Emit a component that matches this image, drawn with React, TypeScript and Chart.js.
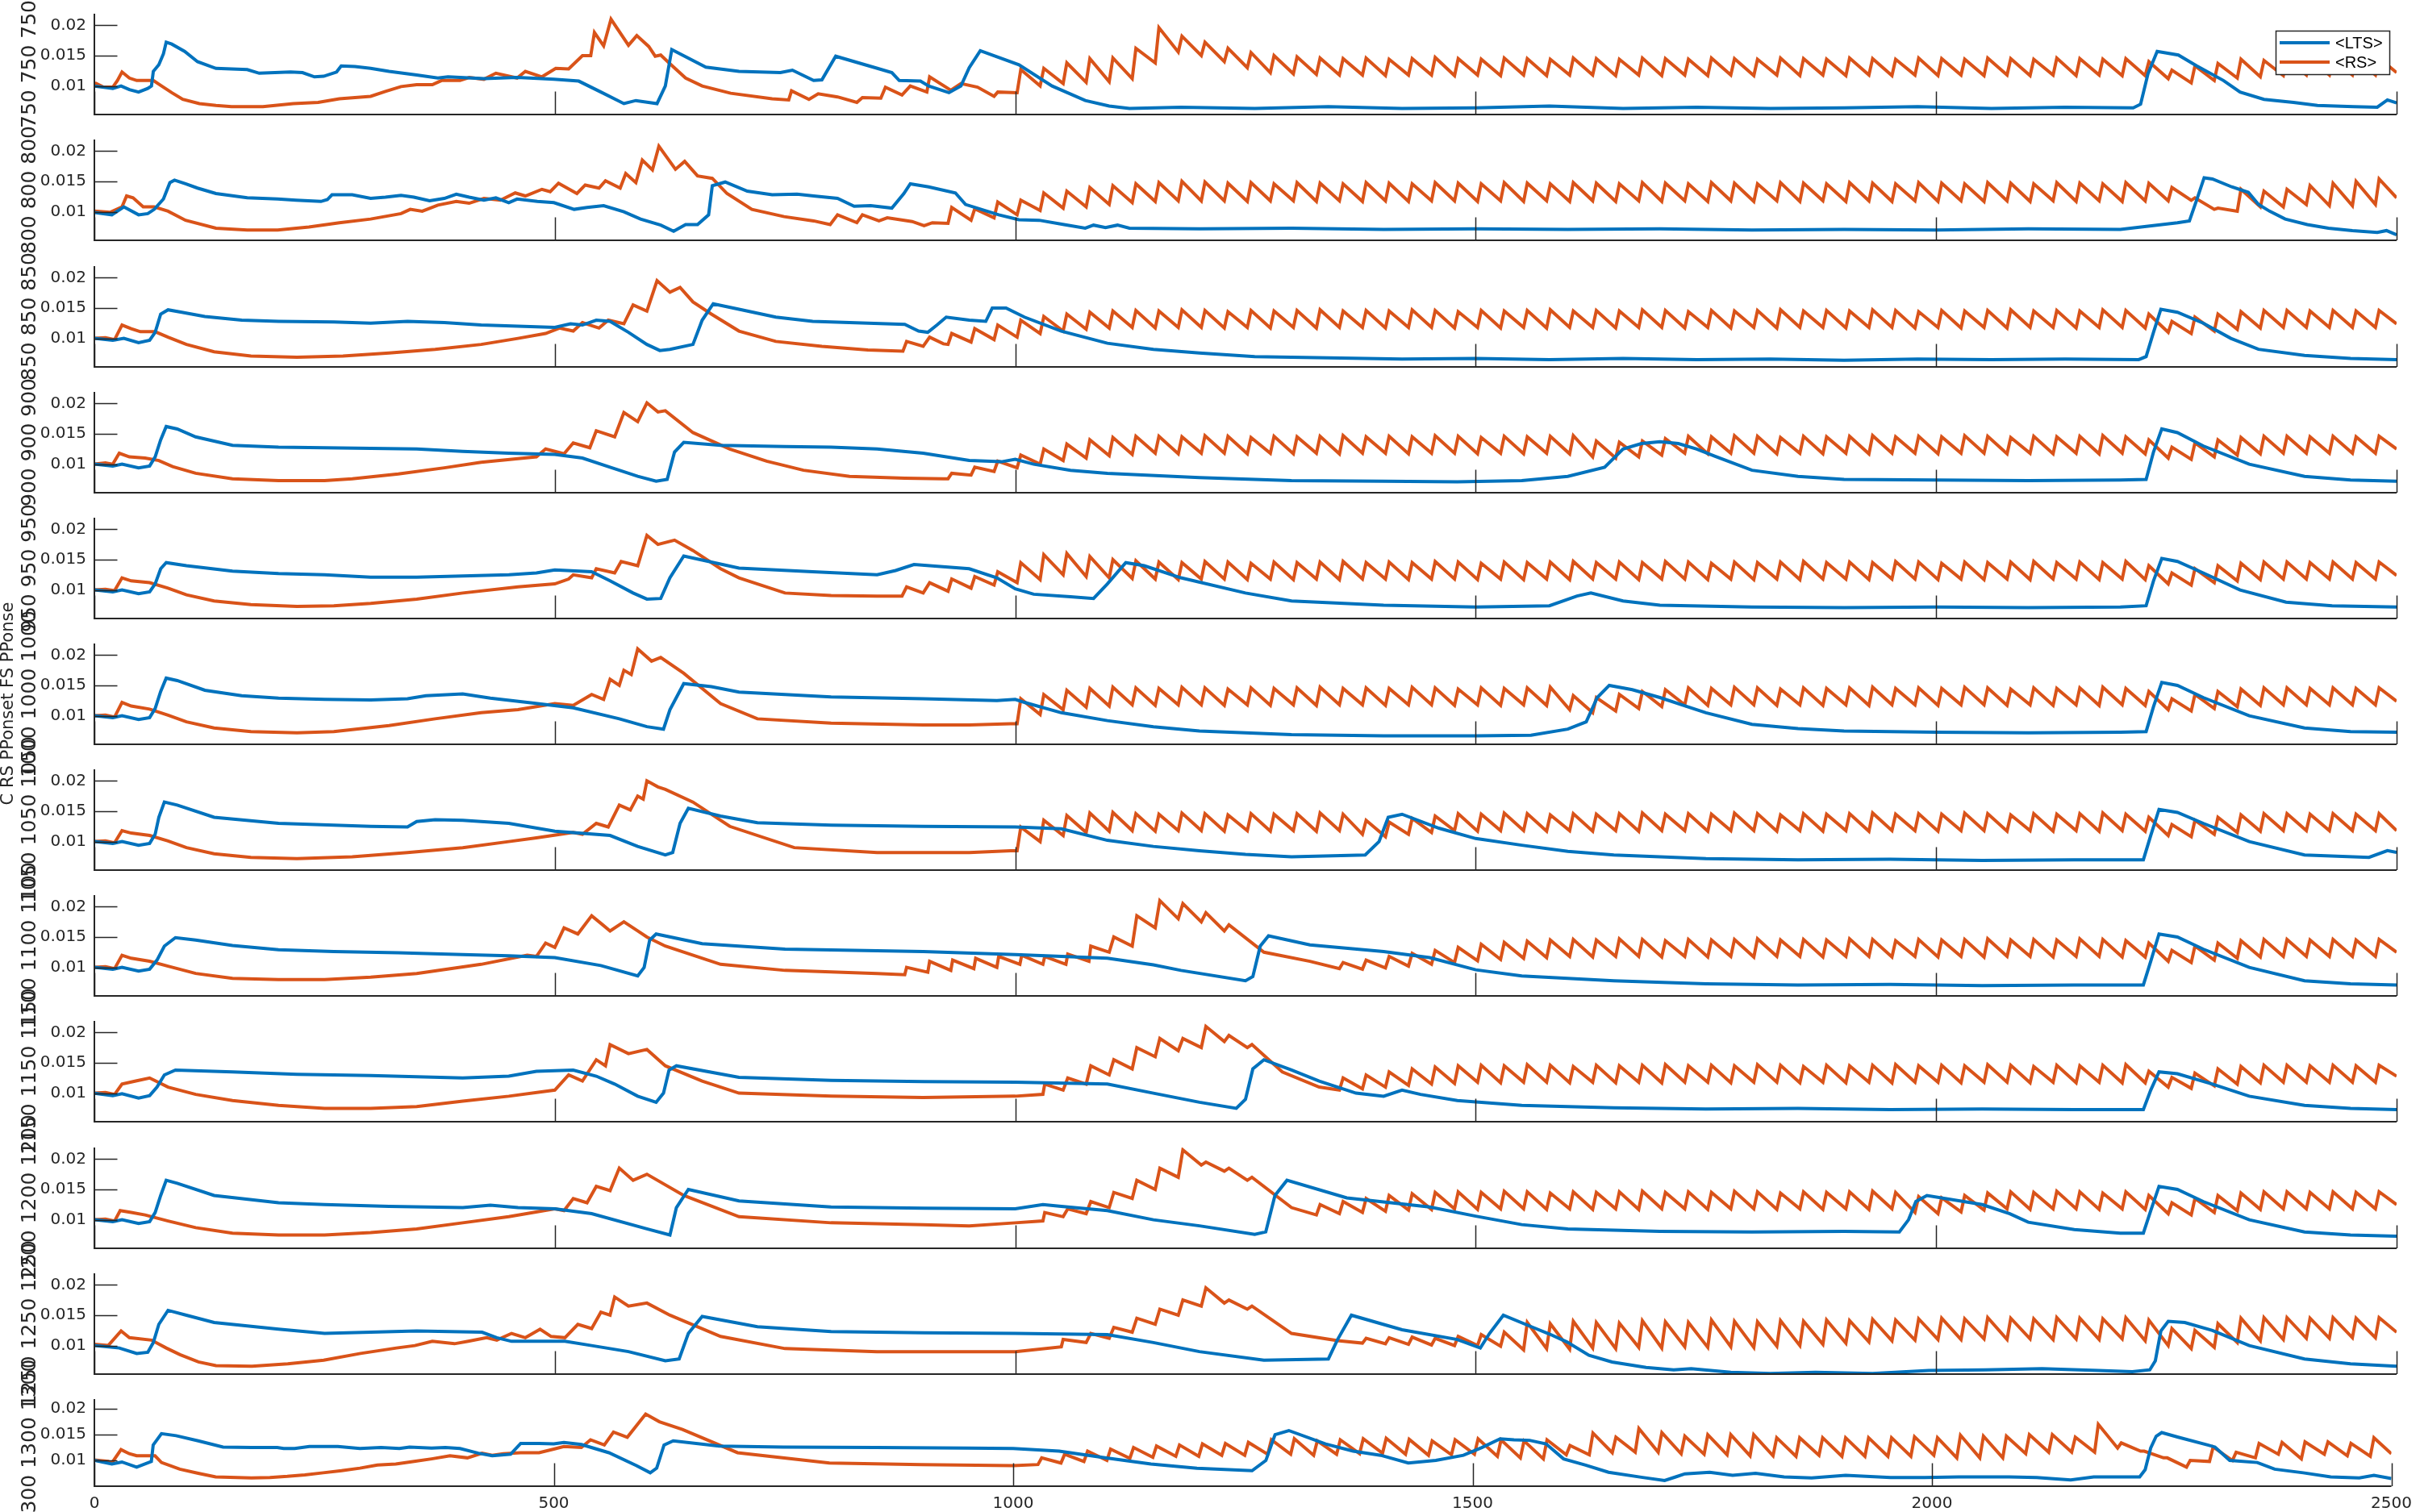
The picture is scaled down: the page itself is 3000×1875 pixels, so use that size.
import React, { useEffect, useRef } from 'react';
import { Chart, registerables } from 'chart.js';

Chart.register(...registerables);

// ---------- layout / style constants ----------
const PAGE_W = 3000;
const PAGE_H = 1875;
const PAD = 160;
const PANEL_TOP = [17, 173, 330, 486, 642, 798, 954, 1110, 1266, 1423, 1579, 1735];
const PANEL_H = [125, 125, 125, 125, 125, 125, 125, 125, 125, 125, 125, 108];
const Y_MIN = [0.0053, 0.0053, 0.0053, 0.0053, 0.0053, 0.0053, 0.0053, 0.0053, 0.0053, 0.0053, 0.0053, 0.005];
const Y_MAX = 0.0219;
const X_MIN = 0;
const X_MAX = 2500;
const X_TICKS = [0, 500, 1000, 1500, 2000, 2500];
const Y_TICKS = [0.01, 0.015, 0.02];
const Y_TICK_LABELS = ['0.01', '0.015', '0.02'];
const PANEL_VALUES = [750, 800, 850, 900, 950, 1000, 1050, 1100, 1150, 1200, 1250, 1300];
const GROUP_LABEL = 'C RS PPonset FS PPonse';
const GROUP_LABEL_PANEL = 5;
const SERIES_NAMES = ['<LTS>', '<RS>'];
const COLORS = ['#0072BD', '#D95319'];
const AXIS_COLOR = '#262626';
const TICK_LEN = 28.5;
const TOOTH_PERIOD = 25;

// ---------- data: <LTS> (x, y pairs) ----------
const LTS: number[][] = [
  [0,.0100,14,.0097,20,.0096,29,.0100,38,.0094,48,.0090,58,.0096,62,.0100,64,.0124,70,.0135,75,.0153,78,.0172,84,.0169,98,.0157,112,.0140,132,.0129,166,.0127,179,.0121,213,.0123,226,.0122,239,.0115,249,.0116,263,.0123,268,.0133,283,.0132,300,.0129,320,.0124,350,.0118,373,.0113,384,.0115,423,.0112,459,.0114,499,.0111,526,.0108,550,.0090,575,.0071,588,.0076,611,.0071,620,.0100,627,.0160,664,.0131,700,.0124,745,.0122,758,.0126,781,.0109,790,.0110,805,.0149,848,.0130,866,.0122,874,.0109,897,.0108,906,.0100,928,.0089,941,.0100,950,.0130,962,.0158,1004,.0135,1040,.0100,1076,.0076,1102,.0067,1124,.0063,1180,.0065,1260,.0063,1340,.0066,1420,.0063,1500,.0064,1580,.0067,1660,.0063,1740,.0065,1820,.0063,1900,.0064,1980,.0066,2060,.0063,2140,.0065,2214,.0064,2222,.0070,2230,.0120,2240,.0157,2263,.0151,2283,.0133,2312,.0109,2330,.0090,2356,.0078,2388,.0073,2414,.0068,2453,.0066,2479,.0065,2490,.0077,2500,.0072],
  [0,.0099,19,.0095,32,.0108,48,.0095,58,.0097,65,.0104,75,.0121,82,.0148,87,.0152,99,.0146,112,.0139,132,.0130,166,.0123,199,.0121,219,.0119,246,.0117,253,.0120,258,.0128,280,.0128,300,.0122,316,.0124,333,.0127,347,.0124,364,.0118,380,.0122,393,.0129,407,.0124,423,.0119,436,.0123,450,.0115,459,.0121,481,.0117,499,.0115,521,.0104,535,.0107,553,.0110,575,.0100,593,.0088,615,.0078,629,.0068,642,.0079,655,.0079,667,.0095,671,.0143,685,.0149,709,.0134,736,.0128,763,.0129,781,.0126,807,.0122,825,.0109,843,.0110,866,.0106,879,.0130,886,.0146,906,.0141,935,.0131,946,.0112,982,.0095,1004,.0087,1026,.0086,1053,.0079,1076,.0073,1085,.0078,1098,.0074,1111,.0078,1124,.0073,1200,.0072,1300,.0073,1400,.0071,1500,.0072,1600,.0071,1700,.0072,1800,.0070,1900,.0071,2000,.0070,2100,.0072,2200,.0071,2262,.0082,2275,.0085,2283,.0120,2291,.0156,2300,.0154,2321,.0141,2339,.0132,2350,.0112,2362,.0101,2379,.0088,2403,.0079,2426,.0073,2452,.0069,2479,.0066,2489,.0069,2500,.0062],
  [0,.0100,20,.0097,32,.0100,48,.0093,60,.0097,66,.0110,72,.0140,80,.0147,95,.0143,120,.0136,160,.0130,200,.0128,260,.0127,300,.0125,340,.0128,380,.0126,420,.0122,460,.0120,500,.0118,517,.0124,530,.0122,545,.0130,560,.0128,580,.0110,600,.0090,614,.0080,625,.0082,650,.0090,660,.0130,672,.0157,700,.0148,740,.0135,780,.0128,840,.0125,880,.0123,895,.0112,905,.0110,915,.0122,925,.0135,950,.0130,968,.0128,975,.0150,990,.0150,1010,.0135,1050,.0112,1100,.0092,1150,.0082,1200,.0076,1260,.0070,1340,.0068,1420,.0066,1500,.0067,1580,.0065,1660,.0067,1740,.0065,1820,.0066,1900,.0064,1980,.0066,2060,.0065,2140,.0066,2220,.0065,2228,.0070,2236,.0110,2244,.0148,2262,.0143,2290,.0125,2320,.0100,2350,.0082,2400,.0072,2450,.0067,2500,.0065],
  [0,.0100,20,.0097,30,.0100,48,.0094,60,.0097,66,.0112,72,.0140,78,.0162,90,.0158,110,.0145,150,.0131,200,.0128,250,.0127,300,.0126,350,.0125,400,.0121,450,.0118,500,.0116,530,.0110,560,.0095,590,.0080,610,.0072,622,.0075,630,.0120,640,.0136,680,.0131,750,.0129,800,.0128,850,.0125,900,.0118,950,.0106,985,.0104,1000,.0108,1020,.0100,1060,.0090,1100,.0085,1200,.0078,1300,.0073,1400,.0072,1480,.0071,1550,.0073,1600,.0080,1640,.0095,1660,.0125,1680,.0134,1700,.0137,1720,.0134,1740,.0125,1760,.0113,1800,.0090,1850,.0080,1900,.0075,2000,.0074,2100,.0073,2200,.0074,2228,.0075,2236,.0120,2245,.0158,2262,.0152,2290,.0130,2340,.0100,2400,.0080,2450,.0074,2500,.0072],
  [0,.0100,20,.0097,30,.0100,48,.0094,60,.0097,66,.0110,72,.0135,78,.0145,100,.0140,150,.0131,200,.0127,250,.0125,300,.0121,350,.0121,400,.0123,450,.0125,480,.0128,500,.0133,540,.0130,560,.0115,585,.0095,600,.0085,615,.0086,625,.0120,640,.0156,700,.0136,780,.0130,850,.0125,870,.0132,890,.0142,950,.0135,980,.0120,1000,.0102,1020,.0093,1060,.0089,1085,.0086,1100,.0110,1120,.0145,1140,.0140,1180,.0120,1250,.0095,1300,.0082,1400,.0075,1500,.0072,1580,.0074,1610,.0090,1625,.0095,1660,.0082,1700,.0075,1800,.0072,1900,.0071,2000,.0072,2100,.0071,2200,.0072,2228,.0074,2236,.0115,2245,.0152,2262,.0147,2290,.0128,2330,.0100,2380,.0080,2430,.0074,2500,.0072],
  [0,.0100,20,.0097,30,.0100,48,.0094,60,.0097,66,.0112,72,.0140,78,.0162,90,.0158,120,.0142,160,.0133,200,.0129,250,.0127,300,.0126,340,.0128,360,.0133,400,.0136,430,.0129,470,.0122,520,.0113,570,.0095,600,.0082,618,.0078,625,.0110,640,.0153,670,.0148,700,.0139,800,.0131,900,.0128,980,.0125,1000,.0127,1010,.0122,1050,.0105,1100,.0092,1150,.0082,1200,.0075,1300,.0069,1400,.0067,1500,.0067,1560,.0068,1600,.0078,1620,.0090,1632,.0130,1645,.0150,1670,.0143,1700,.0130,1730,.0115,1750,.0105,1800,.0086,1850,.0079,1900,.0075,2000,.0073,2100,.0072,2200,.0073,2228,.0074,2236,.0115,2245,.0155,2262,.0150,2290,.0130,2340,.0100,2400,.0080,2450,.0074,2500,.0073],
  [0,.0100,20,.0097,30,.0100,48,.0094,60,.0097,66,.0112,70,.0140,76,.0165,90,.0160,130,.0140,200,.0130,300,.0125,340,.0124,350,.0133,370,.0136,400,.0135,450,.0130,500,.0117,560,.0110,590,.0092,620,.0078,628,.0082,636,.0130,645,.0155,680,.0142,720,.0131,800,.0127,900,.0125,1000,.0124,1050,.0121,1100,.0102,1150,.0092,1200,.0085,1250,.0079,1300,.0075,1380,.0078,1395,.0100,1405,.0140,1420,.0145,1460,.0122,1500,.0105,1550,.0094,1600,.0084,1650,.0078,1750,.0072,1850,.0070,1950,.0071,2050,.0069,2150,.0070,2225,.0070,2233,.0110,2242,.0153,2262,.0148,2290,.0130,2340,.0100,2400,.0078,2470,.0074,2490,.0085,2500,.0082],
  [0,.0100,20,.0097,30,.0100,48,.0094,60,.0097,68,.0112,76,.0135,88,.0149,110,.0145,150,.0136,200,.0129,260,.0126,330,.0124,400,.0121,450,.0119,500,.0116,550,.0103,590,.0086,597,.0100,603,.0145,610,.0155,660,.0139,750,.0130,900,.0126,1000,.0121,1050,.0118,1100,.0115,1150,.0104,1180,.0095,1250,.0078,1258,.0085,1266,.0135,1275,.0152,1320,.0137,1400,.0126,1450,.0116,1500,.0096,1550,.0086,1650,.0078,1750,.0073,1850,.0071,1950,.0072,2050,.0070,2150,.0071,2225,.0071,2233,.0110,2242,.0155,2262,.0150,2290,.0130,2340,.0100,2400,.0078,2450,.0073,2500,.0071],
  [0,.0100,20,.0096,30,.0099,48,.0092,60,.0096,68,.0110,76,.0130,88,.0138,150,.0135,220,.0131,300,.0129,400,.0125,450,.0128,480,.0136,520,.0138,545,.0128,565,.0115,590,.0095,610,.0085,618,.0100,624,.0138,632,.0145,700,.0126,800,.0121,900,.0119,1000,.0118,1100,.0115,1150,.0100,1200,.0085,1240,.0075,1250,.0090,1258,.0140,1270,.0155,1300,.0138,1330,.0120,1370,.0100,1400,.0095,1420,.0105,1440,.0098,1480,.0088,1550,.0080,1650,.0076,1750,.0074,1850,.0075,1950,.0073,2050,.0074,2150,.0073,2225,.0073,2233,.0105,2242,.0135,2262,.0132,2300,.0115,2340,.0095,2400,.0080,2450,.0075,2500,.0073],
  [0,.0100,20,.0097,30,.0100,48,.0094,60,.0097,66,.0112,72,.0140,78,.0165,90,.0160,130,.0140,200,.0128,250,.0125,320,.0122,400,.0120,430,.0124,460,.0120,500,.0118,540,.0110,600,.0085,625,.0075,632,.0120,645,.0150,700,.0131,800,.0121,900,.0119,1000,.0118,1030,.0125,1050,.0122,1100,.0115,1150,.0100,1200,.0090,1260,.0076,1272,.0080,1282,.0140,1295,.0165,1360,.0136,1450,.0121,1500,.0106,1550,.0092,1600,.0085,1700,.0081,1800,.0080,1900,.0081,1960,.0080,1970,.0100,1978,.0130,1990,.0140,2050,.0125,2080,.0110,2100,.0096,2150,.0084,2200,.0078,2225,.0078,2233,.0115,2242,.0155,2262,.0150,2290,.0130,2340,.0100,2400,.0080,2450,.0075,2500,.0073],
  [0,.0100,27,.0096,46,.0087,58,.0089,64,.0105,70,.0135,80,.0158,100,.0150,130,.0138,200,.0127,250,.0120,300,.0122,350,.0124,421,.0122,437,.0113,453,.0107,511,.0107,540,.0100,580,.0090,620,.0075,635,.0078,645,.0120,660,.0148,720,.0131,800,.0123,900,.0121,1000,.0120,1100,.0118,1150,.0105,1200,.0090,1270,.0076,1340,.0078,1350,.0110,1365,.0150,1420,.0126,1480,.0110,1505,.0096,1515,.0120,1530,.0150,1562,.0130,1580,.0119,1599,.0106,1623,.0084,1648,.0073,1685,.0064,1715,.0060,1734,.0062,1777,.0056,1820,.0054,1869,.0056,1931,.0054,1992,.0059,2053,.0060,2115,.0062,2176,.0059,2213,.0057,2232,.0060,2238,.0075,2244,.0124,2252,.0140,2270,.0138,2300,.0125,2340,.0100,2400,.0078,2450,.0070,2500,.0066],
  [0,.0100,19,.0093,30,.0097,46,.0087,62,.0098,64,.0130,73,.0152,89,.0148,113,.0138,140,.0126,171,.0125,199,.0125,206,.0123,218,.0123,234,.0127,265,.0127,289,.0123,312,.0125,332,.0123,343,.0126,367,.0124,382,.0125,398,.0123,418,.0114,433,.0109,453,.0112,464,.0133,484,.0133,500,.0132,511,.0135,530,.0131,560,.0115,590,.0090,605,.0076,612,.0085,620,.0130,630,.0138,680,.0128,750,.0126,850,.0125,950,.0124,1000,.0123,1050,.0118,1100,.0105,1150,.0093,1200,.0085,1260,.0080,1275,.0100,1285,.0150,1300,.0158,1340,.0132,1370,.0118,1400,.0110,1430,.0095,1460,.0100,1490,.0110,1510,.0125,1530,.0142,1545,.0140,1562,.0139,1580,.0132,1599,.0103,1623,.0091,1648,.0077,1685,.0067,1709,.0061,1721,.0068,1731,.0074,1758,.0077,1783,.0071,1808,.0075,1839,.0068,1869,.0066,1906,.0071,1955,.0067,1992,.0067,2029,.0068,2084,.0068,2114,.0067,2151,.0062,2176,.0068,2226,.0068,2232,.0082,2238,.0124,2244,.0147,2250,.0154,2268,.0145,2300,.0130,2308,.0126,2324,.0100,2354,.0096,2373,.0083,2404,.0076,2434,.0068,2465,.0066,2481,.0071,2500,.0065],
];

// ---------- data: <RS> irregular first part (x, y pairs) ----------
const RS_HEAD: number[][] = [
  [0,.0100,2,.0104,10,.0098,20,.0098,25,.0109,30,.0123,38,.0113,46,.0109,64,.0109,73,.0100,84,.0089,96,.0078,114,.0071,132,.0068,149,.0066,183,.0066,216,.0071,243,.0073,266,.0079,300,.0083,316,.0091,333,.0099,350,.0102,367,.0102,377,.0109,397,.0109,407,.0114,423,.0111,436,.0121,459,.0113,468,.0124,486,.0115,501,.0129,515,.0128,530,.0150,539,.0150,543,.0188,553,.0166,561,.0210,580,.0167,589,.0183,602,.0165,609,.0149,615,.0151,624,.0138,642,.0113,660,.0100,691,.0088,736,.0079,754,.0077,757,.0092,776,.0078,786,.0087,807,.0082,828,.0073,834,.0081,854,.0080,859,.0098,877,.0085,886,.0100,904,.0090,907,.0115,930,.0093,941,.0104,959,.0098],
  [0,.0101,17,.0099,30,.0108,35,.0126,42,.0123,53,.0108,65,.0108,80,.0101,99,.0086,132,.0073,166,.0070,199,.0070,233,.0075,266,.0082,300,.0088,333,.0097,343,.0104,356,.0101,373,.0111,393,.0117,407,.0114,423,.0122,441,.0119,457,.0131,468,.0126,486,.0137,495,.0133,504,.0147,524,.0130,533,.0144,548,.0139,555,.0151,571,.0139,577,.0163,588,.0148,595,.0185,606,.0169,613,.0208,631,.0170,641,.0183,655,.0159,671,.0155,687,.0130,714,.0104,749,.0092,781,.0085,799,.0079,807,.0095,828,.0082,834,.0095,852,.0085,861,.0090,888,.0084,901,.0077,910,.0082],
  [0,.0100,12,.0101,22,.0098,30,.0122,40,.0116,50,.0111,66,.0111,80,.0102,100,.0090,130,.0078,170,.0071,220,.0069,270,.0071,320,.0076,370,.0082,420,.0090,460,.0100,490,.0108,505,.0117,520,.0112,530,.0126,548,.0117,558,.0130,575,.0124,585,.0155,600,.0145,611,.0195,625,.0176,636,.0184,650,.0160,670,.0140,700,.0112,740,.0095,790,.0087,840,.0081,878,.0079,882,.0095,900,.0087,907,.0102,922,.0091],
  [0,.0100,12,.0102,20,.0100,27,.0118,38,.0112,55,.0110,70,.0106,85,.0096,110,.0085,150,.0076,200,.0073,250,.0073,280,.0076,330,.0084,380,.0094,420,.0103,460,.0109,480,.0112,490,.0125,510,.0117,520,.0135,538,.0127,545,.0155,565,.0145,575,.0185,590,.0170,600,.0201,612,.0186,620,.0188,650,.0152,690,.0125,730,.0105,770,.0090,820,.0080,880,.0077,922,.0076],
  [0,.0100,12,.0101,22,.0099,30,.0120,40,.0115,60,.0112,80,.0103,100,.0092,130,.0082,170,.0076,220,.0073,260,.0074,300,.0078,350,.0085,400,.0095,460,.0105,500,.0110,515,.0118,520,.0125,540,.0120,545,.0135,565,.0128,572,.0147,590,.0140,600,.0190,612,.0175,630,.0182,650,.0165,680,.0135,700,.0120,750,.0095,800,.0091,850,.0090,877,.0090,882,.0105,900,.0095,907,.0112],
  [0,.0100,12,.0101,22,.0098,30,.0122,40,.0116,60,.0111,80,.0101,100,.0090,130,.0080,170,.0074,220,.0072,260,.0074,320,.0084,370,.0095,420,.0105,460,.0110,480,.0115,500,.0120,520,.0117,540,.0135,553,.0127,560,.0160,570,.0150,575,.0175,583,.0168,590,.0210,605,.0190,615,.0196,640,.0170,680,.0120,720,.0095,800,.0088,900,.0085,950,.0085,995,.0087],
  [0,.0100,12,.0101,22,.0098,30,.0118,40,.0114,60,.0110,80,.0101,100,.0090,130,.0080,170,.0074,220,.0072,280,.0075,340,.0082,400,.0090,450,.0100,480,.0106,520,.0115,530,.0112,545,.0130,558,.0124,570,.0160,582,.0152,590,.0175,596,.0170,600,.0200,612,.0190,620,.0186,650,.0165,690,.0125,760,.0090,850,.0082,950,.0082,995,.0085],
  [0,.0100,12,.0101,22,.0098,30,.0120,40,.0115,60,.0110,80,.0102,110,.0090,150,.0082,200,.0080,250,.0080,300,.0084,350,.0090,420,.0105,470,.0120,480,.0118,490,.0140,500,.0133,510,.0165,525,.0155,540,.0185,552,.0170,560,.0160,575,.0175,590,.0160,600,.0150,620,.0135,680,.0105,750,.0095,850,.0090,880,.0088,882,.0100,905,.0092,907,.0110,930,.0095,932,.0112,955,.0098,957,.0115,980,.0100,982,.0118,1005,.0105,1007,.0120,1030,.0105,1032,.0118,1055,.0105,1057,.0122,1080,.0110,1082,.0135,1102,.0125,1107,.0150,1127,.0135,1132,.0185,1152,.0165,1157,.0210,1177,.0180,1182,.0205,1202,.0175,1207,.0190,1227,.0160,1232,.0170,1270,.0125,1320,.0110],
  [0,.0100,12,.0101,22,.0098,30,.0115,45,.0120,60,.0125,80,.0110,110,.0098,150,.0088,200,.0080,250,.0075,300,.0075,350,.0078,400,.0087,450,.0095,500,.0105,515,.0130,530,.0120,545,.0155,555,.0145,560,.0180,580,.0165,600,.0172,620,.0145,660,.0120,700,.0100,800,.0095,900,.0093,1000,.0095,1030,.0098,1032,.0115,1052,.0105,1057,.0125,1077,.0115,1082,.0145,1102,.0130,1107,.0155,1127,.0140,1132,.0175,1152,.0160,1157,.0190,1177,.0170,1182,.0190,1202,.0175,1207,.0210,1227,.0185,1232,.0195,1252,.0175,1257,.0180,1290,.0135,1330,.0110],
  [0,.0100,12,.0101,22,.0098,28,.0115,40,.0112,55,.0108,80,.0098,110,.0087,150,.0078,200,.0075,250,.0075,300,.0079,350,.0085,400,.0095,450,.0105,500,.0118,510,.0115,520,.0135,535,.0128,545,.0155,560,.0148,570,.0185,585,.0165,600,.0175,640,.0140,700,.0105,800,.0095,900,.0092,950,.0090,1000,.0095,1030,.0098,1032,.0112,1052,.0105,1057,.0118,1077,.0110,1082,.0130,1102,.0120,1107,.0145,1127,.0135,1132,.0165,1152,.0150,1157,.0185,1177,.0170,1182,.0215,1202,.0190,1207,.0195,1227,.0180,1232,.0185,1252,.0165,1257,.0170,1300,.0120],
  [0,.0102,15,.0100,29,.0124,38,.0113,62,.0109,78,.0096,93,.0085,113,.0073,132,.0067,171,.0066,210,.0070,249,.0076,289,.0087,328,.0096,348,.0100,367,.0107,391,.0103,406,.0107,426,.0113,437,.0109,453,.0120,468,.0113,484,.0127,496,.0115,511,.0113,525,.0135,540,.0128,550,.0155,560,.0150,565,.0180,580,.0165,600,.0170,625,.0150,680,.0115,750,.0095,850,.0090,1000,.0090,1050,.0098,1052,.0110,1077,.0105,1082,.0120,1102,.0112,1107,.0130,1127,.0122,1132,.0145,1152,.0135,1157,.0160,1177,.0150,1182,.0175,1202,.0165,1207,.0195,1227,.0170,1232,.0175,1252,.0160,1257,.0165,1300,.0120,1350,.0108],
  [0,.0101,15,.0098,19,.0095,29,.0121,38,.0113,46,.0109,66,.0109,73,.0096,93,.0083,113,.0075,132,.0068,171,.0066,191,.0067,210,.0069,229,.0072,249,.0076,269,.0080,289,.0085,308,.0091,328,.0093,348,.0098,367,.0103,387,.0109,406,.0105,422,.0114,433,.0110,445,.0113,464,.0115,484,.0115,500,.0122,511,.0127,530,.0125,540,.0140,555,.0130,565,.0155,580,.0145,600,.0190,615,.0175,640,.0160,700,.0115,800,.0095,900,.0092,1000,.0090],
];

// ---------- data: <RS> regular 25-unit teeth (trough, peak per cycle) ----------
const RS_TEETH_FIRST_CYCLE = [39, 37, 37, 37, 37, 40, 40, 54, 54, 53, 55, 41];
const RS_TEETH: number[][] = [
  [.0083,.0090,.0089,.0127,.0100,.0129,.0104,.0138,.0106,.0145,.0107,.0146,.0112,.0162,.0138,.0196,.0156,.0182,.0150,.0172,.0140,.0162,.0130,.0155,.0122,.0150,.0120,.0148,.0119,.0146,.0118,.0145,
   .0118,.0146,.0117,.0144,.0118,.0145,.0118,.0147,.0117,.0145,.0118,.0144,.0117,.0146,.0118,.0145,.0117,.0144,.0118,.0146,
   .0118,.0145,.0117,.0144,.0118,.0146,.0117,.0145,.0118,.0144,.0117,.0146,.0118,.0145,.0117,.0144,.0118,.0146,.0117,.0145,
   .0118,.0144,.0117,.0146,.0118,.0145,.0117,.0144,.0118,.0146,.0117,.0145,.0118,.0144,.0117,.0146,.0118,.0145,.0117,.0144,
   .0118,.0146,.0117,.0145,.0118,.0144,.0117,.0145,
   .0117,.0140,.0112,.0126,.0105,.0133,.0109,.0137,.0113,.0144,.0115,.0142,.0117,.0146,.0118,.0146,.0118,.0145,.0118,.0146,.0118,.0146],
  [.0081,.0107,.0086,.0105,.0090,.0116,.0095,.0119,.0102,.0131,.0106,.0134,.0108,.0140,.0112,.0143,.0115,.0146,.0117,.0148,.0118,.0150,.0118,.0149,
   .0118,.0147,.0117,.0148,.0118,.0146,.0118,.0148,.0117,.0147,.0118,.0146,.0117,.0148,.0118,.0147,.0117,.0146,.0118,.0148,
   .0118,.0147,.0117,.0146,.0118,.0148,.0117,.0147,.0118,.0146,.0117,.0148,.0118,.0147,.0117,.0146,.0118,.0148,.0117,.0147,
   .0118,.0146,.0117,.0148,.0118,.0147,.0117,.0146,.0118,.0148,.0117,.0147,.0118,.0146,.0117,.0148,.0118,.0147,.0117,.0146,
   .0118,.0148,.0117,.0147,.0118,.0146,.0117,.0148,.0118,.0147,.0117,.0146,.0118,.0148,.0117,.0147,.0118,.0146,.0117,.0148,
   .0118,.0147,
   .0118,.0140,.0119,.0123,.0104,.0106,.0101,.0137,.0108,.0134,.0108,.0137,.0112,.0143,.0110,.0147,.0110,.0150,.0112,.0154],
  [.0090,.0108,.0094,.0116,.0098,.0122,.0102,.0130,.0108,.0136,.0112,.0140,.0115,.0143,.0117,.0145,
   .0118,.0146,.0117,.0145,.0118,.0147,.0118,.0146,.0117,.0144,.0118,.0146,.0117,.0145,.0118,.0146,.0117,.0147,.0118,.0145,
   .0118,.0146,.0117,.0145,.0118,.0147,.0118,.0146,.0117,.0144,.0118,.0146,.0117,.0145,.0118,.0146,.0117,.0147,.0118,.0145,
   .0118,.0146,.0117,.0145,.0118,.0147,.0118,.0146,.0117,.0144,.0118,.0146,.0117,.0145,.0118,.0146,.0117,.0147,.0118,.0145,
   .0118,.0146,.0117,.0145,.0118,.0147,.0118,.0146,.0117,.0144,.0118,.0146,.0117,.0145,.0118,.0146,.0117,.0147,.0118,.0145,
   .0118,.0146,.0117,.0145,.0118,.0147,.0118,.0146,
   .0117,.0140,.0110,.0128,.0108,.0135,.0112,.0140,.0115,.0144,.0117,.0146,.0118,.0146,.0118,.0145,.0118,.0146,.0118,.0145,.0118,.0146],
  [.0076,.0085,.0082,.0095,.0088,.0105,.0094,.0115,.0100,.0125,.0106,.0133,.0110,.0140,.0114,.0144,.0116,.0146,
   .0118,.0146,.0117,.0145,.0118,.0147,.0118,.0146,.0117,.0144,.0118,.0146,.0117,.0145,.0118,.0146,.0117,.0147,.0118,.0145,
   .0118,.0146,.0117,.0145,.0118,.0147,.0118,.0146,.0117,.0144,.0118,.0146,.0117,.0145,.0118,.0146,.0117,.0147,
   .0112,.0138,.0110,.0136,.0112,.0138,.0115,.0142,
   .0118,.0146,.0117,.0145,.0118,.0147,.0118,.0146,.0117,.0144,.0118,.0146,.0117,.0145,.0118,.0146,.0117,.0147,.0118,.0145,
   .0118,.0146,.0117,.0145,.0118,.0147,.0118,.0146,.0117,.0144,.0118,.0146,.0117,.0145,.0118,.0146,.0117,.0147,.0118,.0145,
   .0117,.0140,.0110,.0128,.0108,.0135,.0112,.0140,.0115,.0144,.0117,.0146,.0118,.0146,.0118,.0145,.0118,.0146,.0118,.0145,.0118,.0146],
  [.0098,.0118,.0103,.0122,.0108,.0130,.0112,.0145,.0117,.0158,.0125,.0160,.0122,.0155,.0120,.0150,.0119,.0148,
   .0118,.0146,.0117,.0145,.0118,.0147,.0118,.0146,.0117,.0144,.0118,.0146,.0117,.0145,.0118,.0146,.0117,.0147,.0118,.0145,
   .0118,.0146,.0117,.0145,.0118,.0147,.0118,.0146,.0117,.0144,.0118,.0146,.0117,.0145,.0118,.0146,.0117,.0147,.0118,.0145,
   .0118,.0146,.0117,.0145,.0118,.0147,.0118,.0146,.0117,.0144,.0118,.0146,.0117,.0145,.0118,.0146,.0117,.0147,.0118,.0145,
   .0118,.0146,.0117,.0145,.0118,.0147,.0118,.0146,.0117,.0144,.0118,.0146,.0117,.0145,.0118,.0146,.0117,.0147,.0118,.0145,
   .0118,.0146,.0117,.0145,.0118,.0147,
   .0117,.0140,.0110,.0128,.0108,.0135,.0112,.0140,.0115,.0144,.0117,.0146,.0118,.0146,.0118,.0145,.0118,.0146,.0118,.0145,.0118,.0146],
  [.0087,.0128,.0102,.0135,.0110,.0142,.0114,.0145,.0116,.0147,
   .0118,.0146,.0117,.0145,.0118,.0147,.0118,.0146,.0117,.0144,.0118,.0146,.0117,.0145,.0118,.0146,.0117,.0147,.0118,.0145,
   .0118,.0146,.0117,.0145,.0118,.0147,.0118,.0146,.0117,.0144,.0118,.0146,.0117,.0145,.0118,.0146,.0117,.0147,
   .0110,.0133,.0105,.0130,.0108,.0135,.0112,.0140,.0115,.0143,
   .0118,.0146,.0117,.0145,.0118,.0147,.0118,.0146,.0117,.0144,.0118,.0146,.0117,.0145,.0118,.0146,.0117,.0147,.0118,.0145,
   .0118,.0146,.0117,.0145,.0118,.0147,.0118,.0146,.0117,.0144,.0118,.0146,.0117,.0145,.0118,.0146,.0117,.0147,.0118,.0145,
   .0117,.0140,.0110,.0128,.0108,.0135,.0112,.0140,.0115,.0144,.0117,.0146,.0118,.0146,.0118,.0145,.0118,.0146,.0118,.0145,.0118,.0146],
  [.0085,.0124,.0100,.0135,.0110,.0143,.0115,.0147,.0117,.0148,
   .0118,.0146,.0117,.0145,.0118,.0147,.0118,.0146,.0117,.0144,.0118,.0146,.0117,.0145,.0118,.0146,.0117,.0147,.0118,.0145,
   .0112,.0135,.0108,.0132,.0112,.0138,.0115,.0142,
   .0118,.0146,.0117,.0145,.0118,.0147,.0118,.0146,.0117,.0144,.0118,.0146,.0117,.0145,.0118,.0146,.0117,.0147,.0118,.0145,
   .0118,.0146,.0117,.0145,.0118,.0147,.0118,.0146,.0117,.0144,.0118,.0146,.0117,.0145,.0118,.0146,.0117,.0147,.0118,.0145,
   .0118,.0146,.0117,.0145,.0118,.0147,.0118,.0146,.0117,.0144,.0118,.0146,.0117,.0145,.0118,.0146,.0117,.0147,.0118,.0145,
   .0117,.0140,.0110,.0128,.0108,.0135,.0112,.0140,.0115,.0144,.0117,.0146,.0118,.0146,.0118,.0145,.0118,.0146,.0118,.0145,.0118,.0146],
  [.0098,.0108,.0097,.0112,.0099,.0118,.0102,.0123,.0105,.0128,.0108,.0133,.0111,.0138,.0113,.0141,.0115,.0143,.0116,.0145,
   .0118,.0146,.0117,.0145,.0118,.0147,.0118,.0146,.0117,.0144,.0118,.0146,.0117,.0145,.0118,.0146,.0117,.0147,.0118,.0145,
   .0118,.0146,.0117,.0145,.0118,.0147,.0118,.0146,.0117,.0144,.0118,.0146,.0117,.0145,.0118,.0146,.0117,.0147,.0118,.0145,
   .0118,.0146,.0117,.0145,.0118,.0147,.0118,.0146,.0117,.0144,
   .0117,.0140,.0110,.0128,.0108,.0135,.0112,.0140,.0115,.0144,.0117,.0146,.0118,.0146,.0118,.0145,.0118,.0146,.0118,.0145,.0118,.0146],
  [.0105,.0125,.0107,.0130,.0110,.0135,.0113,.0140,.0115,.0143,.0116,.0145,
   .0118,.0146,.0117,.0145,.0118,.0147,.0118,.0146,.0117,.0144,.0118,.0146,.0117,.0145,.0118,.0146,.0117,.0147,.0118,.0145,
   .0118,.0146,.0117,.0145,.0118,.0147,.0118,.0146,.0117,.0144,.0118,.0146,.0117,.0145,.0118,.0146,.0117,.0147,.0118,.0145,
   .0118,.0146,.0117,.0145,.0118,.0147,.0118,.0146,.0117,.0144,.0118,.0146,.0117,.0145,.0118,.0146,.0117,.0147,
   .0117,.0136,.0110,.0126,.0108,.0133,.0112,.0140,.0115,.0144,.0117,.0146,.0118,.0146,.0118,.0145,.0118,.0146,.0118,.0145,.0118,.0146],
  [.0108,.0125,.0110,.0130,.0112,.0135,.0114,.0140,.0116,.0143,.0117,.0145,
   .0118,.0146,.0117,.0145,.0118,.0147,.0118,.0146,.0117,.0144,.0118,.0146,.0117,.0145,.0118,.0146,.0117,.0147,.0118,.0145,
   .0118,.0146,.0117,.0145,.0118,.0147,.0118,.0146,.0117,.0144,.0118,.0146,.0117,.0145,.0118,.0146,.0117,.0147,.0118,.0145,
   .0112,.0138,.0110,.0136,.0113,.0140,.0116,.0144,
   .0118,.0146,.0117,.0145,.0118,.0147,.0118,.0146,.0117,.0144,.0118,.0146,
   .0117,.0140,.0110,.0128,.0108,.0135,.0112,.0140,.0115,.0144,.0117,.0146,.0118,.0146,.0118,.0145,.0118,.0146,.0118,.0145,.0118,.0146],
  [.0104,.0112,.0103,.0113,.0102,.0114,.0101,.0112,.0100,.0115,.0100,.0118,.0099,.0122,
   .0093,.0138,.0095,.0136,.0094,.0140,.0096,.0138,.0095,.0137,.0097,.0141,.0096,.0139,.0098,.0138,.0097,.0142,
   .0098,.0140,.0097,.0139,.0099,.0141,.0100,.0140,.0102,.0142,.0104,.0141,.0106,.0143,.0108,.0142,.0109,.0144,
   .0110,.0145,.0110,.0144,.0111,.0146,.0110,.0145,.0111,.0144,.0110,.0146,.0111,.0145,.0110,.0144,.0111,.0146,
   .0108,.0142,.0100,.0128,.0095,.0125,.0097,.0136,.0105,.0145,.0108,.0146,.0110,.0146,.0112,.0145,.0112,.0146,.0113,.0145,.0113,.0146],
  [.0092,.0105,.0095,.0112,.0098,.0118,.0100,.0122,.0104,.0125,.0106,.0128,.0108,.0130,.0108,.0132,.0110,.0133,.0110,.0135,
   .0112,.0140,.0112,.0142,.0110,.0138,.0112,.0140,.0113,.0142,.0114,.0143,.0112,.0141,.0110,.0138,.0111,.0140,.0112,.0142,.0108,.0140,.0105,.0138,
   .0103,.0140,.0111,.0129,.0111,.0153,.0115,.0145,.0116,.0162,.0116,.0154,.0113,.0147,.0112,.0150,.0111,.0150,.0109,.0150,
   .0109,.0144,.0108,.0144,.0110,.0144,.0108,.0144,.0108,.0144,.0108,.0144,.0108,.0146,.0110,.0144,.0105,.0149,.0105,.0147,
   .0105,.0147,.0113,.0150,.0116,.0150,.0116,.0145,.0116,.0170,.0124,.0134,.0118,.0118,.0105,.0105,.0087,.0100,.0098,.0126,
   .0100,.0116,.0105,.0133,.0112,.0135,.0103,.0136,.0112,.0136,.0109,.0133,.0108,.0144],
];
const RS_END = [.0122, .0123, .0124, .0125, .0124, .0124, .0118, .0125, .0128, .0125, .0122, .0113];

// ---------- builders ----------
type Pt = { x: number; y: number };

function pairsToPoints(flat: number[]): Pt[] {
  const out: Pt[] = [];
  for (let i = 0; i + 1 < flat.length; i += 2) out.push({ x: flat[i], y: flat[i + 1] });
  return out;
}

function ltsPoints(k: number): Pt[] {
  return pairsToPoints(LTS[k]);
}

function rsPoints(k: number): Pt[] {
  const pts = pairsToPoints(RS_HEAD[k]);
  const teeth = RS_TEETH[k];
  const first = RS_TEETH_FIRST_CYCLE[k];
  for (let i = 0; i + 1 < teeth.length; i += 2) {
    const cycle = first + i / 2;
    const xT = TOOTH_PERIOD * cycle + 2;
    const xP = TOOTH_PERIOD * cycle + 6;
    if (xP > X_MAX) break;
    pts.push({ x: xT, y: teeth[i] }, { x: xP, y: teeth[i + 1] });
  }
  pts.push({ x: X_MAX, y: RS_END[k] });
  return pts;
}

// ---------- plugin: MATLAB-like axes, inward ticks, y labels, legend ----------
const decorPlugin = {
  id: 'decor',
  afterDraw(chart: any) {
    const k: number = chart.options.plugins.decor.panel;
    const { ctx, chartArea: ca } = chart;
    const xs = chart.scales.x;
    const ys = chart.scales.y;
    ctx.save();
    ctx.strokeStyle = AXIS_COLOR;
    ctx.lineCap = 'butt';
    // inward tick marks
    ctx.lineWidth = 1.5;
    ctx.beginPath();
    for (const v of X_TICKS) {
      const px = Math.round(xs.getPixelForValue(v)) + 0.5;
      ctx.moveTo(px, ca.bottom);
      ctx.lineTo(px, ca.bottom - TICK_LEN);
    }
    for (const v of Y_TICKS) {
      const py = Math.round(ys.getPixelForValue(v)) + 0.5;
      ctx.moveTo(ca.left, py);
      ctx.lineTo(ca.left + TICK_LEN, py);
    }
    ctx.stroke();
    // axis lines (left + bottom only)
    ctx.lineWidth = 2;
    ctx.beginPath();
    ctx.moveTo(ca.left, ca.top);
    ctx.lineTo(ca.left, ca.bottom);
    ctx.lineTo(ca.right, ca.bottom);
    ctx.stroke();

    // rotated y labels
    const cy = (ca.top + ca.bottom) / 2;
    const v = PANEL_VALUES[k];
    const label = `${v} ${v} ${v}`;
    ctx.fillStyle = AXIS_COLOR;
    ctx.font = '25px "DejaVu Sans"';
    ctx.textAlign = 'center';
    ctx.textBaseline = 'middle';
    ctx.save();
    ctx.translate(37, cy);
    ctx.rotate(-Math.PI / 2);
    ctx.fillText(label, 0, 0);
    ctx.restore();
    if (k === GROUP_LABEL_PANEL) {
      ctx.font = '21px "DejaVu Sans"';
      ctx.save();
      ctx.translate(11, cy + 12);
      ctx.rotate(-Math.PI / 2);
      ctx.fillText(GROUP_LABEL, 0, 0);
      ctx.restore();
    }

    // legend on first panel
    if (k === 0) {
      const bx = ca.right - 150;
      const by = ca.top + 21;
      const bw = 141;
      const bh = 54;
      ctx.fillStyle = '#ffffff';
      ctx.fillRect(bx, by, bw, bh);
      ctx.lineWidth = 1.5;
      ctx.strokeStyle = AXIS_COLOR;
      ctx.strokeRect(bx + 0.5, by + 0.5, bw, bh);
      const rows = [by + 15, by + 39];
      chart.data.datasets.forEach((ds: any, i: number) => {
        ctx.strokeStyle = ds.borderColor;
        ctx.lineWidth = 4;
        ctx.beginPath();
        ctx.moveTo(bx + 5, rows[i]);
        ctx.lineTo(bx + 67, rows[i]);
        ctx.stroke();
        ctx.fillStyle = '#000000';
        ctx.font = '20px "Liberation Sans"';
        ctx.textAlign = 'left';
        ctx.textBaseline = 'middle';
        ctx.fillText(ds.label, bx + 74, rows[i] + 1);
      });
    }
    ctx.restore();
  },
};

function Panel({ k }: { k: number }) {
  const ref = useRef<HTMLCanvasElement | null>(null);
  const h = PANEL_H[k];
  const canvasH = PAD + h + PAD;
  const isLast = k === PANEL_TOP.length - 1;

  useEffect(() => {
    if (!ref.current) return;
    const chart = new Chart(ref.current, {
      type: 'line',
      data: {
        datasets: [
          { label: SERIES_NAMES[0], data: ltsPoints(k), borderColor: COLORS[0], backgroundColor: COLORS[0], borderWidth: 4, pointRadius: 0, tension: 0 },
          { label: SERIES_NAMES[1], data: rsPoints(k), borderColor: COLORS[1], backgroundColor: COLORS[1], borderWidth: 4, pointRadius: 0, tension: 0 },
        ],
      },
      options: {
        responsive: false,
        animation: false,
        devicePixelRatio: 1,
        events: [],
        layout: { padding: { top: PAD, bottom: PAD - 40, left: 0, right: 29 } },
        plugins: {
          legend: { display: false },
          tooltip: { enabled: false },
          decor: { panel: k },
        } as any,
        scales: {
          x: {
            type: 'linear',
            min: X_MIN,
            max: X_MAX,
            grid: { display: false, drawTicks: false, tickLength: 0 },
            border: { display: false },
            afterBuildTicks: (s: any) => { s.ticks = X_TICKS.map((value) => ({ value })); },
            afterFit: (s: any) => { s.height = 40; },
            ticks: {
              display: isLast,
              padding: 10,
              maxRotation: 0,
              autoSkip: false,
              color: AXIS_COLOR,
              font: { family: 'DejaVu Sans', size: 20 },
              callback: (v: any) => String(v),
            },
          },
          y: {
            type: 'linear',
            min: Y_MIN[k],
            max: Y_MAX,
            grid: { display: false, drawTicks: false, tickLength: 0 },
            border: { display: false },
            afterBuildTicks: (s: any) => { s.ticks = Y_TICKS.map((value) => ({ value })); },
            afterFit: (s: any) => { s.width = 117; },
            ticks: {
              padding: 10,
              color: AXIS_COLOR,
              font: { family: 'DejaVu Sans', size: 20 },
              callback: (v: any) => {
                const i = Y_TICKS.findIndex((t) => Math.abs(t - v) < 1e-9);
                return i >= 0 ? Y_TICK_LABELS[i] : '';
              },
            },
          },
        },
      },
      plugins: [decorPlugin],
    } as any);
    return () => chart.destroy();
  }, [k]);

  return (
    <canvas
      ref={ref}
      width={PAGE_W}
      height={canvasH}
      style={{ position: 'absolute', left: 0, top: PANEL_TOP[k] - PAD, width: PAGE_W, height: canvasH, display: 'block' }}
    />
  );
}

export default function App() {
  return (
    <div style={{ position: 'absolute', left: 0, top: 0, width: PAGE_W, height: PAGE_H, overflow: 'hidden', background: '#ffffff' }}>
      {PANEL_TOP.map((_, k) => (
        <Panel key={k} k={k} />
      ))}
    </div>
  );
}
